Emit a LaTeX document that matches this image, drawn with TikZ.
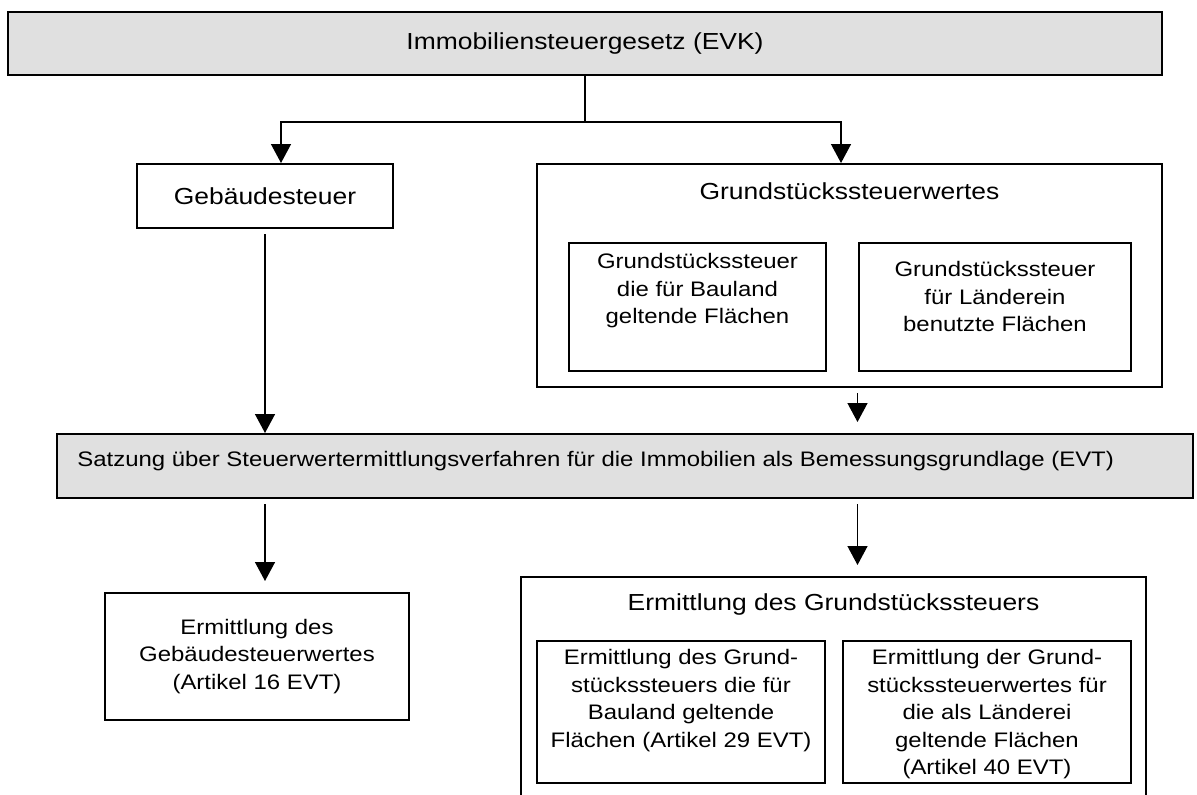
\documentclass[tikz,border=0pt]{standalone}
\usepackage{fontspec}
\setmainfont{Liberation Sans}[FakeStretch=1.14]
\usetikzlibrary{positioning}
\usetikzlibrary{arrows.meta}
\definecolor{boxgray}{HTML}{E0E0E0}
\newcommand{\bodyfont}{\fontsize{10.5}{13.75}\selectfont}
\newcommand{\titlefont}{\fontsize{11.6}{14}\selectfont}
\tikzset{
  box/.style={draw, line width=1pt, inner sep=0pt},
  graybox/.style={box, fill=boxgray},
  boxtext/.style={inner sep=0pt, align=center, font=\bodyfont},
  titletext/.style={inner sep=0pt, font=\titlefont},
  flow/.style={line width=0.7pt, -{Triangle[length=9.5pt,width=10pt]}},
}

\begin{document}
\begin{tikzpicture}[x=0.5pt, y=-0.5pt]
\useasboundingbox (0,0) rectangle (1197,794);

% Level 1
\node [graybox, minimum width=577pt, minimum height=31.5pt, font=\titlefont] at (585,43.5) (evk) {Immobiliensteuergesetz (EVK)};
\coordinate (split) at (585,122);

% Level 2
\node [box, minimum width=128pt, minimum height=32pt, font=\titlefont] at (265,196) (geb) {Gebäudesteuer};
\node [box, minimum width=312.5pt, minimum height=111.5pt] at (849.5,275.5) (grund) {};
\node [titletext, below=9.75pt of grund.north] (grundtitle) {Grundstückssteuerwertes};
\node [box, minimum width=128.5pt, minimum height=64pt] at (697.5,307) (bau) {};
\node [box, minimum width=136pt, minimum height=64pt, right=15.5pt of bau] (land) {};
\node [boxtext, below=5.5pt of bau.north] (bautext) {Grundstückssteuer\\die für Bauland\\geltende Flächen};
\node [boxtext, below=9.5pt of land.north] (landtext) {Grundstückssteuer\\für Länderein\\benutzte Flächen};

% Level 3
\node [graybox, minimum width=568pt, minimum height=32pt] at (625,466) (satz) {};
\node [boxtext, below right=8.75pt and 10.5pt of satz.north west] (satztext) {Satzung über Steuerwertermittlungsverfahren für die Immobilien als Bemessungsgrundlage (EVT)};

% Level 4
\node [box, minimum width=152pt, minimum height=63.5pt, align=center, font=\bodyfont] at (257,656.5) (ermgeb) {Ermittlung des\\Gebäudesteuerwertes\\(Artikel 16 EVT)};
\node [box, minimum width=312.5pt, minimum height=111.5pt] at (833.5,688.5) (ermgrund) {};
\node [titletext, below=8.75pt of ermgrund.north] (ermgrundtitle) {Ermittlung des Grundstückssteuers};
\node [box, minimum width=144pt, minimum height=71pt] at (681,712) (ermbau) {};
\node [box, minimum width=144pt, minimum height=71pt, right=8pt of ermbau] (ermland) {};
\node [boxtext, below=4.5pt of ermbau.north] (ermbautext) {Ermittlung des Grund-\\stückssteuers die für\\Bauland geltende\\Flächen (Artikel 29 EVT)};
\node [boxtext, below=4.5pt of ermland.north] (ermlandtext) {Ermittlung der Grund-\\stückssteuerwertes für\\die als Länderei\\geltende Flächen\\(Artikel 40 EVT)};

% Connections
\draw [line width=0.7pt] (evk.south) -- (split);
\draw [flow] (split) -| ([xshift=8pt]geb.north);
\draw [flow] (split) -| ([xshift=-4.25pt]grund.north);
\draw [flow] ([yshift=-2.5pt]geb.south) -- (geb.south |- satz.north);
\draw [flow] ([xshift=4pt,yshift=-2.5pt]grund.south) -- ([xshift=4pt,yshift=5.5pt]grund.south |- satz.north);
\draw [flow] ([yshift=-2.5pt]satz.south -| geb.south) -- ([yshift=5.5pt]ermgeb.north -| geb.south);
\draw [flow] ([xshift=4pt,yshift=-2.5pt]satz.south -| grund.south) -- ([xshift=4pt,yshift=5.5pt]ermgrund.north -| grund.south);

\end{tikzpicture}
\end{document}
